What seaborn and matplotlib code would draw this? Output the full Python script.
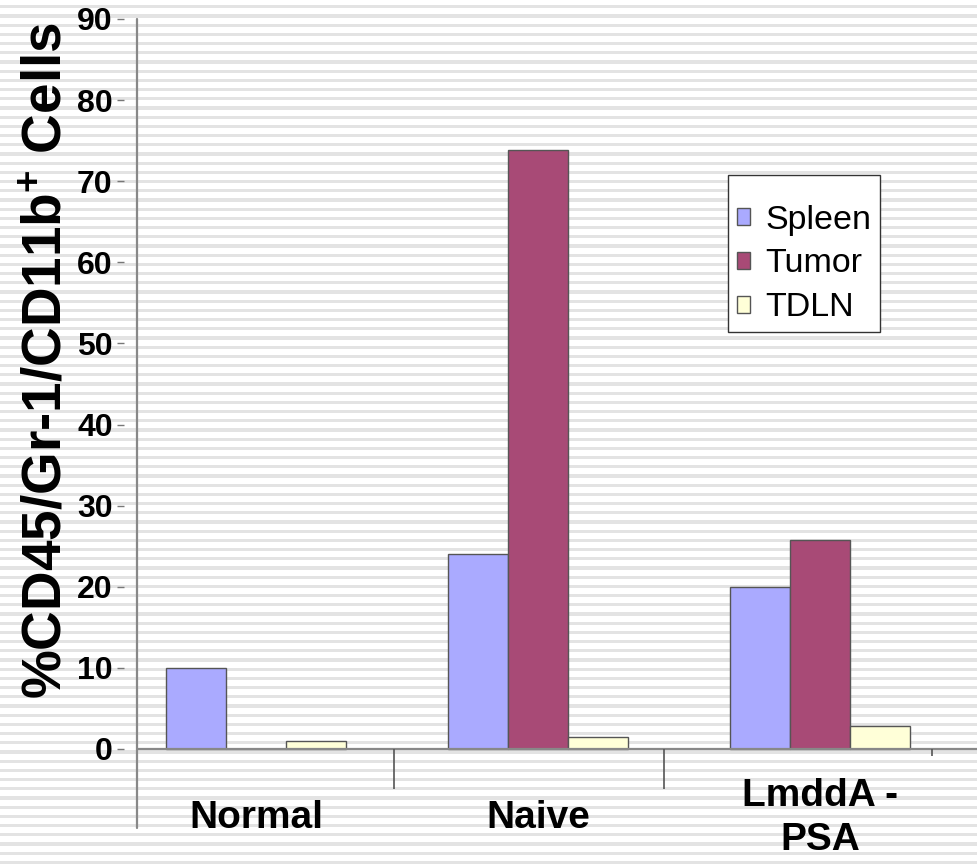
import numpy as np
import pandas as pd
import matplotlib
matplotlib.use("Agg")
import matplotlib.pyplot as plt
import seaborn as sns

# data
groups = ["Normal", "Naive", "LmddA -\nPSA"]
tissues = ["Spleen", "Tumor", "TDLN"]
spleen = [10.0, 24.0, 20.0]
tumor = [0.0, 73.8, 25.8]
tdln = [1.0, 1.5, 2.8]
yticks = [0, 10, 20, 30, 40, 50, 60, 70, 80, 90]
colors = ["#aaaaff", "#a84a76", "#ffffd8"]

df = pd.DataFrame({
    "group": groups * 3,
    "tissue": [t for t in tissues for _ in groups],
    "value": spleen + tumor + tdln,
})

sns.set_style("white")
plt.rcParams["font.family"] = ["Liberation Sans", "DejaVu Sans"]
plt.rcParams["text.color"] = "black"
plt.rcParams["xtick.color"] = "black"
plt.rcParams["ytick.color"] = "black"
plt.rcParams["axes.labelcolor"] = "black"
plt.rcParams["mathtext.fontset"] = "custom"
plt.rcParams["mathtext.bf"] = "Liberation Sans:bold"
plt.rcParams["mathtext.rm"] = "Liberation Sans:bold"
plt.rcParams["mathtext.default"] = "bf"

fig = plt.figure(figsize=(9.77, 8.65), dpi=100)

# striped backdrop
bg = fig.add_axes([0, 0, 1, 1], zorder=-5)
bg.set_xlim(0, 1)
bg.set_ylim(0, 865)
for y0 in np.arange(1.0, 865, 9.2):
    bg.axhspan(y0, y0 + 3.2, color="#e3e3e3", lw=0)
bg.axis("off")

ax = fig.add_axes([137 / 977, 1 - 828 / 865, 840 / 977, 809 / 865])
ax.set_facecolor("none")

sns.barplot(data=df, x="group", y="value", hue="tissue", hue_order=tissues,
            palette=colors, width=0.64, edgecolor="#555555", linewidth=1.0,
            saturation=1, ax=ax, legend=True)

for s in ["top", "right", "bottom", "left"]:
    ax.spines[s].set_visible(False)
ax.spines["left"].set_position(("outward", 9.5))

ax.set_xlim(-0.422, 2.557)
ax.set_ylim(-9.75, 90)
ax.set_yticks(yticks)
ax.set_yticklabels([str(v) for v in yticks], fontsize=23, fontweight="bold")
ax.tick_params(axis="y", direction="out", length=5, width=1, color="#777777",
               pad=3, left=True)
ax.set_xticks(range(len(groups)))
ax.set_xticklabels(groups, fontsize=28, fontweight="bold", linespacing=1.25)
ax.tick_params(axis="x", length=0, pad=-7.2)
plt.setp(ax.get_xticklabels(), va="center")

# axis lines and category separators
ax.axvline(-0.422, color="#888888", lw=1.6, clip_on=False)
ax.axhline(0, color="#888888", lw=1.6)
ax.vlines([0.489, 1.447], -4.9, 0, color="#555555", lw=1.2)
ax.vlines([2.397], -0.9, 0, color="#555555", lw=1.2)

ax.set_xlabel("")
ax.set_ylabel("%CD45/Gr-1/CD11b$^{+}$ Cells", fontsize=39.5, fontweight="bold")
ax.yaxis.set_label_coords(-0.107, 0.578)
ax.yaxis.label.set_va("center")

handles, labels = ax.get_legend_handles_labels()
leg = ax.legend(handles, labels, loc="upper left",
                bbox_to_anchor=(728 / 977, 1 - 175 / 865), bbox_transform=fig.transFigure,
                fontsize=24.5, frameon=True, fancybox=False, framealpha=1,
                edgecolor="#333333", handlelength=0.4, handleheight=0.4,
                handletextpad=0.45, labelspacing=0.38, borderpad=0.25,
                borderaxespad=0)
leg.get_frame().set_linewidth(1.0)
leg._legend_box.sep = 0
leg.set_title(" ", prop={"size": 16})

fig.savefig("out.png", dpi=100)
